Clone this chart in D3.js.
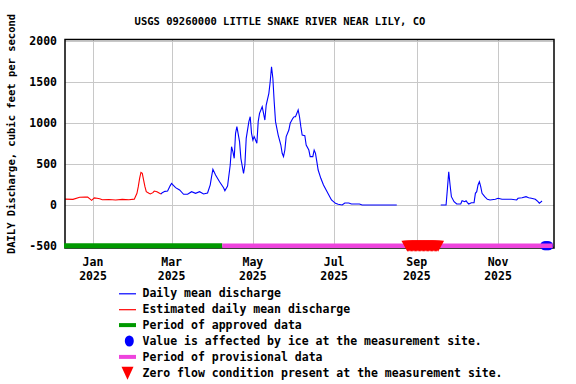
<!DOCTYPE html>
<html>
<head>
<meta charset="utf-8">
<script src="https://cdn.jsdelivr.net/npm/d3@7"></script>
<style>
  body { margin: 0; background: #fff; }
  text { font-family: "DejaVu Sans Mono", monospace; font-weight: bold; fill: #000; }
</style>
</head>
<body>
<div id="chart"></div>
<script>

// estimated daily mean discharge (cfs)
var estDates = ["2024-12-11","2024-12-17","2024-12-22","2024-12-26","2024-12-28","2024-12-31",
  "2025-01-02","2025-01-04","2025-01-06","2025-01-08","2025-01-13","2025-01-18","2025-01-23",
  "2025-01-28","2025-02-01","2025-02-03","2025-02-04","2025-02-05","2025-02-06","2025-02-07",
  "2025-02-08","2025-02-09","2025-02-10","2025-02-12","2025-02-13","2025-02-15","2025-02-16",
  "2025-02-18","2025-02-20","2025-02-21"];
var estValues = [75,72,98,100,100,60,
  90,85,80,68,70,65,72,
  68,75,146,227,329,402,390,
  308,227,166,146,138,154,174,
  166,146,138];

// daily mean discharge, spring / summer run
var dailyDates1 = ["2025-02-21","2025-02-22","2025-02-24","2025-02-26","2025-02-28","2025-03-01",
  "2025-03-02","2025-03-04","2025-03-07","2025-03-10","2025-03-13","2025-03-16","2025-03-19",
  "2025-03-22","2025-03-25","2025-03-28","2025-03-30","2025-03-31","2025-04-01","2025-04-03",
  "2025-04-06","2025-04-09","2025-04-10","2025-04-12","2025-04-14","2025-04-15","2025-04-16",
  "2025-04-17","2025-04-18","2025-04-19","2025-04-21","2025-04-22","2025-04-24","2025-04-25",
  "2025-04-26","2025-04-28","2025-04-29","2025-04-30","2025-05-01","2025-05-02","2025-05-04",
  "2025-05-05","2025-05-06","2025-05-08","2025-05-09","2025-05-10","2025-05-11","2025-05-13",
  "2025-05-14","2025-05-15","2025-05-16","2025-05-17","2025-05-18","2025-05-20","2025-05-22",
  "2025-05-23","2025-05-24","2025-05-25","2025-05-26","2025-05-28","2025-05-29","2025-05-31",
  "2025-06-01","2025-06-02","2025-06-04","2025-06-05","2025-06-06","2025-06-07","2025-06-09",
  "2025-06-10","2025-06-12","2025-06-13","2025-06-15","2025-06-16","2025-06-17","2025-06-18",
  "2025-06-19","2025-06-21","2025-06-23","2025-06-25","2025-06-27","2025-06-29","2025-07-02",
  "2025-07-04","2025-07-07","2025-07-09","2025-07-12","2025-07-14","2025-07-20","2025-07-22",
  "2025-08-17"];
var dailyValues1 = [138,154,170,174,240,268,
  250,215,187,134,134,166,146,
  166,138,150,250,349,439,370,
  288,215,178,235,491,715,654,
  573,878,959,776,573,390,491,
  817,1020,1080,878,796,837,756,
  1020,1122,1202,1122,1040,1223,1366,
  1507,1690,1549,1263,1020,857,735,
  634,593,674,837,918,1000,1061,
  1080,1080,1162,1080,959,857,849,
  735,674,593,593,674,634,532,
  430,329,248,187,126,65,24,
  12,4,28,28,16,16,4,
  4];

// daily mean discharge, autumn run
var dailyDates2 = ["2025-09-19","2025-09-23","2025-09-24","2025-09-25","2025-09-26","2025-09-27",
  "2025-09-29","2025-10-01","2025-10-04","2025-10-05","2025-10-07","2025-10-08","2025-10-09",
  "2025-10-10","2025-10-12","2025-10-14","2025-10-15","2025-10-16","2025-10-17","2025-10-18",
  "2025-10-19","2025-10-20","2025-10-22","2025-10-24","2025-10-26","2025-10-30","2025-11-01",
  "2025-11-04","2025-11-08","2025-11-11","2025-11-15","2025-11-16","2025-11-19","2025-11-22",
  "2025-11-24","2025-11-26","2025-11-29","2025-12-01","2025-12-02","2025-12-04"];
var dailyValues2 = [4,4,200,410,248,105,
  44,16,16,56,44,56,32,
  16,32,32,146,166,248,288,
  227,146,105,73,65,73,85,
  73,73,73,65,85,93,105,
  93,85,73,44,24,52];

// qualifier periods
var approvedPeriod = ["2024-12-11", "2025-04-08"];
var provisionalPeriod = ["2025-04-08", "2025-12-12"];
var zeroFlowPeriod = ["2025-08-25", "2025-09-17"];
var iceDates = ["2025-12-06", "2025-12-07", "2025-12-08", "2025-12-09"];

// axis labels
var yTicks = [-500, 0, 500, 1000, 1500, 2000];
var xTickDates = ["2025-01-01","2025-03-01","2025-05-01","2025-07-01","2025-09-01","2025-11-01"];
var xTickMonths = ["Jan","Mar","May","Jul","Sep","Nov"];

var title = "USGS 09260000 LITTLE SNAKE RIVER NEAR LILY, CO";
var yLabel = "DAILY Discharge, cubic feet per second";

var legendItems = [
  { label: "Daily mean discharge", kind: "line", color: "#0000ff" },
  { label: "Estimated daily mean discharge", kind: "line", color: "#ff0000" },
  { label: "Period of approved data", kind: "bar", color: "#009900" },
  { label: "Value is affected by ice at the measurement site.", kind: "dot", color: "#0000ff" },
  { label: "Period of provisional data", kind: "bar", color: "#ee44dd" },
  { label: "Zero flow condition present at the measurement site.", kind: "tri", color: "#ff0000" }
];

var parse = d3.utcParse("%Y-%m-%d");

function zip(dates, values) {
  return dates.map(function(d, i) { return { date: parse(d), value: values[i] }; });
}

var width = 576, height = 384;
var plot = { left: 65, right: 554, top: 39.5, bottom: 248 };

var svg = d3.select("#chart").append("svg")
  .attr("width", width)
  .attr("height", height);

var x = d3.scaleUtc()
  .domain([parse("2024-12-11"), parse("2025-12-13")])
  .range([plot.left, plot.right]);

var y = d3.scaleLinear()
  .domain([-500, 2000])
  .range([246.3, 41.3]);

// gridlines
svg.append("g")
  .selectAll("line")
  .data(yTicks)
  .enter().append("line")
  .attr("x1", plot.left).attr("x2", plot.right)
  .attr("y1", function(d) { return Math.round(y(d)) + 0.5; })
  .attr("y2", function(d) { return Math.round(y(d)) + 0.5; })
  .attr("stroke", "#c8c8c8")
  .attr("shape-rendering", "crispEdges");

svg.append("g")
  .selectAll("line")
  .data(xTickDates)
  .enter().append("line")
  .attr("x1", function(d) { return Math.round(x(parse(d))) + 0.5; })
  .attr("x2", function(d) { return Math.round(x(parse(d))) + 0.5; })
  .attr("y1", plot.top).attr("y2", plot.bottom)
  .attr("stroke", "#c8c8c8")
  .attr("shape-rendering", "crispEdges");

// discharge lines
var line = d3.line()
  .x(function(d) { return x(d.date); })
  .y(function(d) { return y(d.value); });

[[zip(estDates, estValues), "#ff0000"],
 [zip(dailyDates1, dailyValues1), "#0000ff"],
 [zip(dailyDates2, dailyValues2), "#0000ff"]].forEach(function(s) {
  svg.append("path")
    .datum(s[0])
    .attr("fill", "none")
    .attr("stroke", s[1])
    .attr("stroke-width", 1.1)
    .attr("d", line);
});

// frame
svg.append("rect")
  .attr("x", plot.left).attr("y", plot.top)
  .attr("width", plot.right - plot.left)
  .attr("height", plot.bottom - plot.top)
  .attr("fill", "none")
  .attr("stroke", "#000")
  .attr("stroke-width", 1.5);

// ice markers
var yBar = y(-500) - 0.5;
svg.append("g")
  .selectAll("ellipse")
  .data(iceDates)
  .enter().append("ellipse")
  .attr("cx", function(d) { return x(parse(d)); })
  .attr("cy", yBar)
  .attr("rx", 4.5).attr("ry", 4.5)
  .attr("fill", "#0000ff");

// approval bars
svg.append("line")
  .attr("x1", x(parse(approvedPeriod[0])) - 1).attr("x2", x(parse(approvedPeriod[1])))
  .attr("y1", yBar).attr("y2", yBar)
  .attr("stroke", "#009900").attr("stroke-width", 5);

svg.append("line")
  .attr("x1", x(parse(provisionalPeriod[0]))).attr("x2", x(parse(provisionalPeriod[1])))
  .attr("y1", yBar).attr("y2", yBar)
  .attr("stroke", "#ee44dd").attr("stroke-width", 4.5);

// zero flow markers, one per day
var zeroDays = d3.utcDay.range(parse(zeroFlowPeriod[0]), d3.utcDay.offset(parse(zeroFlowPeriod[1]), 1));
svg.append("g")
  .selectAll("path")
  .data(zeroDays)
  .enter().append("path")
  .attr("fill", "#ff0000")
  .attr("d", function(d) {
    var cx = x(d);
    return "M" + (cx - 6) + "," + (yBar - 5) + "L" + (cx + 6) + "," + (yBar - 5) + "L" + cx + "," + (yBar + 6) + "Z";
  });

// tick labels
svg.append("g")
  .selectAll("text")
  .data(yTicks)
  .enter().append("text")
  .attr("x", 57)
  .attr("y", function(d) { return y(d); })
  .attr("dy", "0.35em")
  .attr("text-anchor", "end")
  .attr("font-size", "11.5px")
  .text(function(d) { return d; });

var xt = svg.append("g")
  .selectAll("text")
  .data(xTickDates)
  .enter().append("text")
  .attr("text-anchor", "middle")
  .attr("font-size", "11.5px")
  .attr("x", function(d) { return x(parse(d)); });
xt.append("tspan")
  .attr("x", function(d) { return x(parse(d)); })
  .attr("y", 265.5)
  .text(function(d, i) { return xTickMonths[i]; });
xt.append("tspan")
  .attr("x", function(d) { return x(parse(d)); })
  .attr("y", 279.5)
  .text(function(d) { return d.slice(0, 4); });

// title and y label
svg.append("text")
  .attr("x", 280).attr("y", 24.5)
  .attr("text-anchor", "middle")
  .attr("font-size", "10.5px")
  .text(title);

svg.append("text")
  .attr("transform", "translate(15,134) rotate(-90)")
  .attr("text-anchor", "middle")
  .attr("font-size", "10.5px")
  .text(yLabel);

// legend
var legend = svg.append("g")
  .selectAll("g")
  .data(legendItems)
  .enter().append("g")
  .attr("transform", function(d, i) { return "translate(0," + (293.3 + i * 15.9) + ")"; });

legend.each(function(d) {
  var g = d3.select(this);
  if (d.kind == "line") {
    g.append("line").attr("x1", 119).attr("x2", 136).attr("y1", 0.5).attr("y2", 0.5)
      .attr("stroke", d.color).attr("stroke-width", 1.2);
  } else if (d.kind == "bar") {
    g.append("line").attr("x1", 119).attr("x2", 136).attr("y1", 0).attr("y2", 0)
      .attr("stroke", d.color).attr("stroke-width", 4);
  } else if (d.kind == "dot") {
    g.append("ellipse").attr("cx", 129.3).attr("cy", 0).attr("rx", 4.5).attr("ry", 5.5)
      .attr("fill", d.color);
  } else {
    g.append("path").attr("d", "M121.5,-6L133.5,-6L127.5,7Z").attr("fill", d.color);
  }
});

legend.append("text")
  .attr("x", 142.5)
  .attr("y", 0)
  .attr("dy", "0.35em")
  .attr("font-size", "11.5px")
  .text(function(d) { return d.label; });

</script>
</body>
</html>
